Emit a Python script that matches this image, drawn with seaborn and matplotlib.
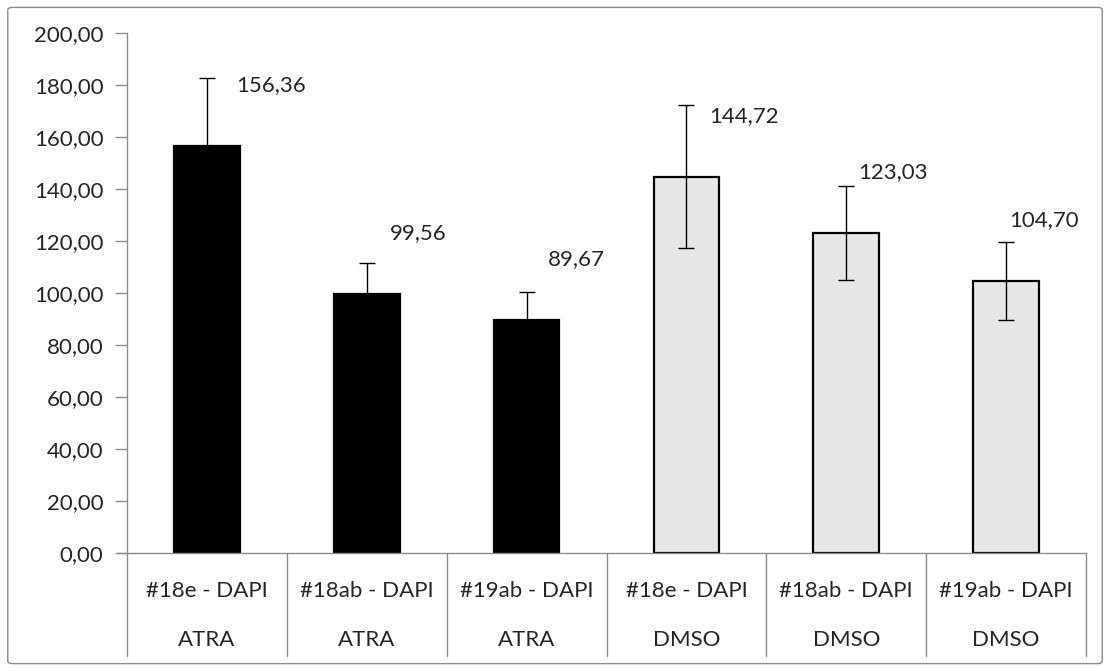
import pandas as pd
import matplotlib.pyplot as plt
import matplotlib.transforms as mtransforms
from matplotlib.ticker import FuncFormatter
from matplotlib.patches import FancyBboxPatch
import seaborn as sns

# data
samples = ['#18e - DAPI', '#18ab - DAPI', '#19ab - DAPI', '#18e - DAPI', '#18ab - DAPI', '#19ab - DAPI']
treatments = ['ATRA', 'ATRA', 'ATRA', 'DMSO', 'DMSO', 'DMSO']
values = [156.36, 99.56, 89.67, 144.72, 123.03, 104.70]
errors = [26.4, 11.8, 10.8, 27.6, 18.0, 15.1]

sns.set_style("white")
plt.rcParams['font.family'] = ['Lato', 'DejaVu Sans']
FS = 16

df = pd.DataFrame({'pos': [str(i) for i in range(len(values))],
                   'treatment': treatments, 'value': values})

fig = plt.figure(figsize=(11.1, 6.71), dpi=100)
ax = fig.add_axes([0.1144, 0.1759, 0.8640, 0.7749])

sns.barplot(data=df, x='pos', y='value', hue='treatment', dodge=False,
            palette={'ATRA': 'black', 'DMSO': '#e6e6e6'}, width=0.41,
            edgecolor='black', linewidth=1.6, errorbar=None, legend=False, ax=ax)
ax.errorbar(range(len(values)), values, yerr=errors, fmt='none',
            ecolor='black', elinewidth=1, capsize=6, capthick=1, zorder=5)

def comma(v, _=None):
    return f"{v:.2f}".replace('.', ',')

# value labels sit up and to the right of each bar (Excel-style placement)
label_dx = [0.40, 0.32, 0.31, 0.36, 0.29, 0.24]
for i, v in enumerate(values):
    ax.text(i + label_dx[i], v + 23.5, comma(v), ha='center', va='center', fontsize=FS)

ax.set_ylim(0, 200)
ax.set_xlim(-0.5, len(values) - 0.5)
ax.set_yticks(range(0, 201, 20))
ax.yaxis.set_major_formatter(FuncFormatter(comma))
ax.tick_params(axis='y', length=9, width=1, color='#8c8c8c', labelsize=FS, pad=8, left=True)
ax.set_xticks(range(len(values)))
ax.set_xticklabels(samples, fontsize=FS)
ax.tick_params(axis='x', length=0, pad=20)
ax.set_xlabel('')
ax.set_ylabel('')

for s in ['top', 'right']:
    ax.spines[s].set_visible(False)
for s in ['left', 'bottom']:
    ax.spines[s].set_color('#8c8c8c')
    ax.spines[s].set_linewidth(1)

# second category row and separators
trans = mtransforms.blended_transform_factory(ax.transData, ax.transAxes)
for i, t in enumerate(treatments):
    ax.text(i, -0.168, t, transform=trans, ha='center', va='center', fontsize=FS)
for b in range(len(values) + 1):
    ax.plot([b - 0.5, b - 0.5], [0, -0.198], transform=trans, color='#8c8c8c',
            lw=1, clip_on=False)
ax.plot([-0.5 - 9 / 160, -0.5], [0, 0], transform=trans, color='#8c8c8c', lw=1, clip_on=False)

# chart area border
fig.patches.append(FancyBboxPatch((0.007, 0.011), 0.986, 0.978, boxstyle='round,pad=0,rounding_size=0.004',
                                  transform=fig.transFigure, fill=False, edgecolor='#8c8c8c', lw=1))

fig.savefig('out.png', dpi=100)
